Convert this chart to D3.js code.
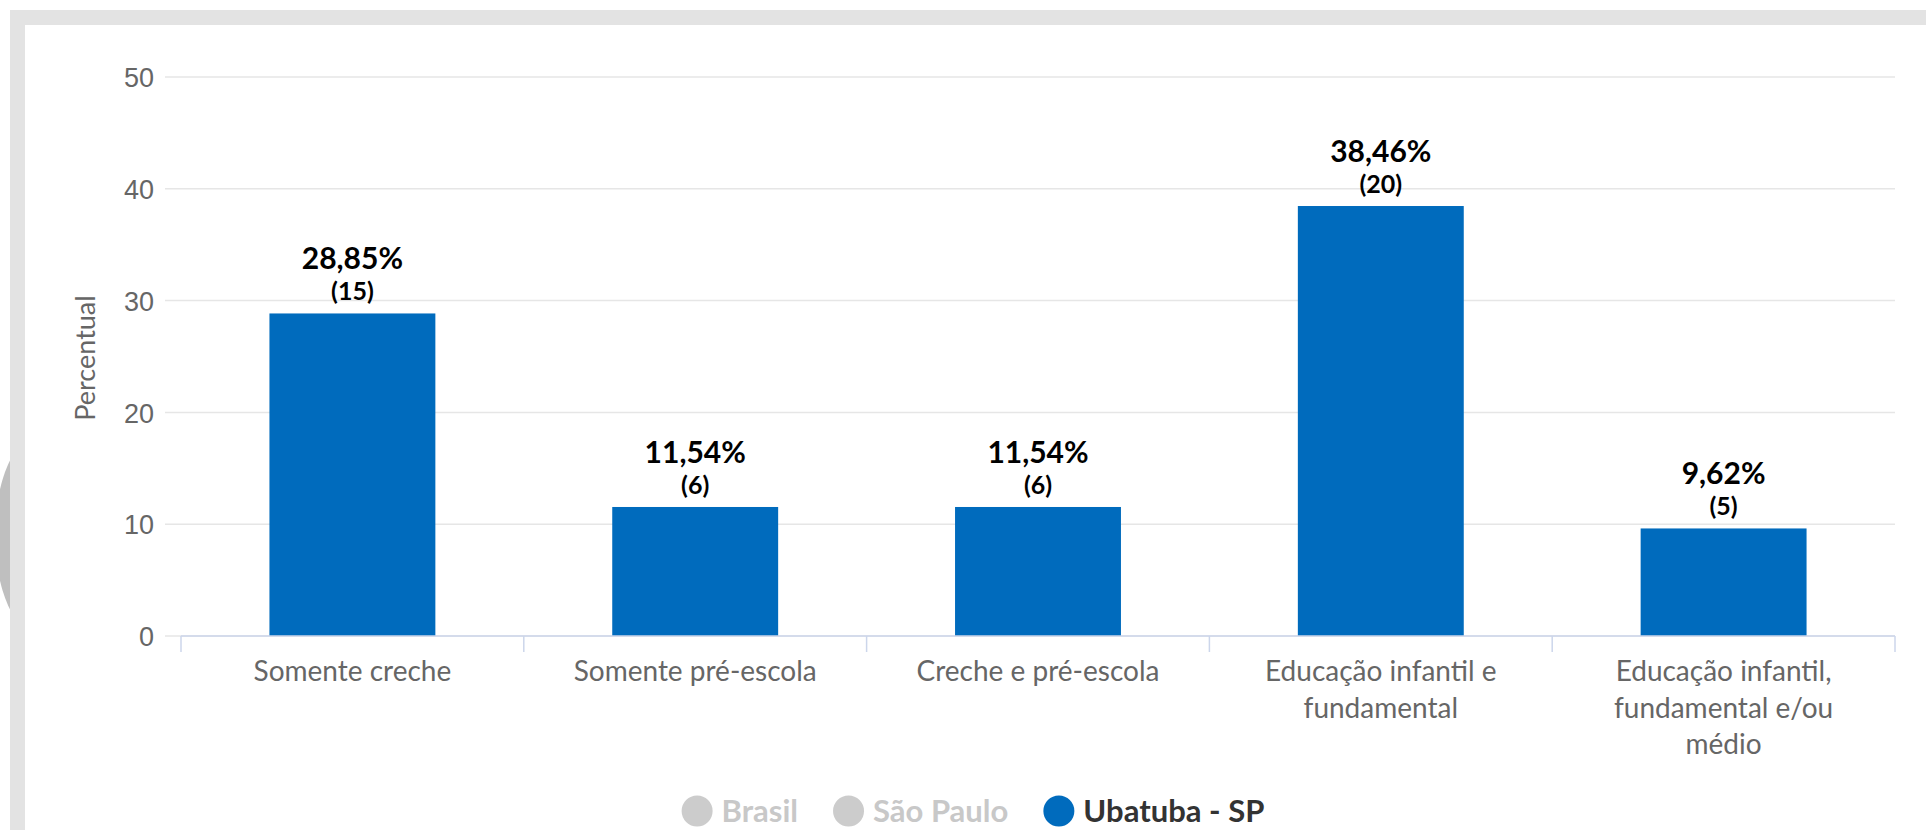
<!DOCTYPE html>
<html>
<head>
<meta charset="utf-8">
<script src="https://cdn.jsdelivr.net/npm/d3@7"></script>
<style>
  html, body { margin: 0; padding: 0; background: #fff; }
  svg { display: block; }
  .tick-y text { font-family: "Liberation Sans", Arial, sans-serif; font-size: 27px; fill: #666; }
  .cat-label { font-family: Lato, "Open Sans", sans-serif; font-size: 28px; fill: #666; }
  .axis-title { font-family: Lato, "Open Sans", sans-serif; font-size: 27px; fill: #666; }
  .value-label { font-family: Lato, sans-serif; font-weight: bold; fill: #000; }
  .legend-label { font-family: Lato, sans-serif; font-weight: bold; font-size: 31px; }
</style>
</head>
<body>
<div id="chart"></div>
<script>
// values
const categories = [
  "Somente creche",
  "Somente pré-escola",
  "Creche e pré-escola",
  "Educação infantil e fundamental",
  "Educação infantil, fundamental e/ou médio"
];
const percents = [28.85, 11.54, 11.54, 38.46, 9.62];
const counts = [15, 6, 6, 20, 5];
const yTicks = [0, 10, 20, 30, 40, 50];
const legendNames = ["Brasil", "São Paulo", "Ubatuba - SP"];
const legendColors = ["#cccccc", "#cccccc", "#006bbd"];
const legendTextColors = ["#c8c8c8", "#c8c8c8", "#333333"];

const width = 1926, height = 830;
const barColor = "#006bbd";

const svg = d3.select("#chart")
  .append("svg")
  .attr("width", width)
  .attr("height", height);

// page frame (grey border and the blob peeking from the left)
svg.append("ellipse")
  .attr("cx", 40).attr("cy", 535)
  .attr("rx", 45).attr("ry", 100)
  .attr("fill", "#bfbfbf");
svg.append("rect")
  .attr("x", 10).attr("y", 10)
  .attr("width", width - 10).attr("height", height - 10)
  .attr("fill", "#e3e3e3");
svg.append("rect")
  .attr("x", 25).attr("y", 25)
  .attr("width", width - 25).attr("height", height - 25)
  .attr("fill", "#fff");

// plot area
const gridLeft = 165, plotLeft = 181, plotRight = 1895;

const yScale = d3.scaleLinear()
  .domain([0, 50])
  .range([636, 77]);

const xScale = d3.scaleBand()
  .domain(categories)
  .range([plotLeft, plotRight])
  .paddingInner(0.516)
  .paddingOuter(0.258);

// gridlines
svg.append("g")
  .selectAll("line")
  .data(yTicks)
  .join("line")
    .attr("x1", gridLeft)
    .attr("x2", plotRight)
    .attr("y1", d => yScale(d))
    .attr("y2", d => yScale(d))
    .attr("stroke", "#e6e6e6")
    .attr("stroke-width", 1.5);

// y axis labels
const yAxis = svg.append("g")
  .attr("class", "tick-y")
  .attr("transform", `translate(${gridLeft}, 0)`)
  .call(d3.axisLeft(yScale).tickValues(yTicks).tickSize(0).tickPadding(11));
yAxis.select(".domain").remove();
yAxis.selectAll("text").attr("dy", "0.36em");

svg.append("text")
  .attr("class", "axis-title")
  .attr("transform", `translate(95, 358) rotate(-90)`)
  .attr("text-anchor", "middle")
  .text("Percentual");

// bars
svg.append("g")
  .selectAll("rect")
  .data(categories)
  .join("rect")
    .attr("x", d => xScale(d))
    .attr("y", (d, i) => yScale(percents[i]))
    .attr("width", xScale.bandwidth())
    .attr("height", (d, i) => yScale(0) - yScale(percents[i]))
    .attr("fill", barColor);

// x axis line + boundary ticks
const step = xScale.step();
const edges = categories.map(d => xScale(d) - step * xScale.paddingInner() / 2);
edges.push(plotRight);

svg.append("line")
  .attr("x1", plotLeft).attr("x2", plotRight)
  .attr("y1", yScale(0)).attr("y2", yScale(0))
  .attr("stroke", "#ccd6eb")
  .attr("stroke-width", 1.5);

svg.append("g")
  .selectAll("line")
  .data(edges)
  .join("line")
    .attr("x1", d => d).attr("x2", d => d)
    .attr("y1", yScale(0)).attr("y2", yScale(0) + 16)
    .attr("stroke", "#ccd6eb")
    .attr("stroke-width", 1.5);

// category labels (wrapped)
const catG = svg.append("g");
categories.forEach(cat => {
  const cx = xScale(cat) + xScale.bandwidth() / 2;
  const t = catG.append("text")
    .attr("class", "cat-label")
    .attr("text-anchor", "middle")
    .attr("x", cx)
    .attr("y", yScale(0) + 45);
  const words = cat.split(" ");
  let line = [];
  let tspan = t.append("tspan").attr("x", cx).attr("dy", 0);
  words.forEach(w => {
    line.push(w);
    tspan.text(line.join(" "));
    if (tspan.node().getComputedTextLength() > 295 && line.length > 1) {
      line.pop();
      tspan.text(line.join(" "));
      line = [w];
      tspan = t.append("tspan").attr("x", cx).attr("dy", 36.5).text(w);
    }
  });
});

// value labels
const valG = svg.append("g");
categories.forEach((cat, i) => {
  const cx = xScale(cat) + xScale.bandwidth() / 2;
  const top = yScale(percents[i]);
  valG.append("text")
    .attr("class", "value-label")
    .attr("text-anchor", "middle")
    .attr("x", cx)
    .attr("y", top - 44)
    .attr("font-size", 30)
    .text(d3.format(".2f")(percents[i]).replace(".", ",") + "%");
  valG.append("text")
    .attr("class", "value-label")
    .attr("text-anchor", "middle")
    .attr("x", cx)
    .attr("y", top - 13)
    .attr("font-size", 25)
    .text(`(${counts[i]})`);
});

// legend
const legend = svg.append("g");
const items = legend.selectAll("g")
  .data(legendNames)
  .join("g");
items.append("circle")
  .attr("r", 15.5)
  .attr("cx", 15.5)
  .attr("cy", 0)
  .attr("fill", (d, i) => legendColors[i]);
items.append("text")
  .attr("class", "legend-label")
  .attr("x", 40)
  .attr("y", 11)
  .attr("fill", (d, i) => legendTextColors[i])
  .text(d => d);

let offset = 0;
const widths = [];
items.each(function () {
  const w = 40 + d3.select(this).select("text").node().getComputedTextLength();
  widths.push(w);
});
const gap = 35;
const total = d3.sum(widths) + gap * (widths.length - 1);
let startX = 973 - total / 2;
items.attr("transform", (d, i) => {
  const x = startX + offset;
  offset += widths[i] + gap;
  return `translate(${x}, 811)`;
});
</script>
</body>
</html>
